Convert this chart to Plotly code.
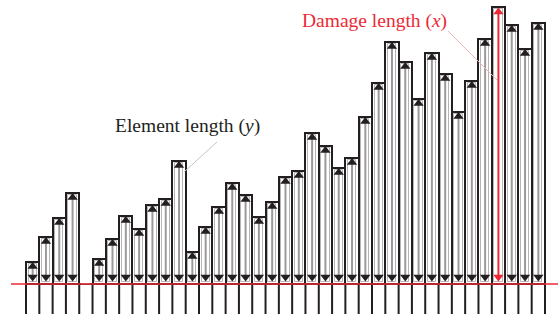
import plotly.graph_objects as go

# ---- data (element index -> element length), slot 4 is empty
slots = list(range(39))
heights = [22, 47, 66, 91, 0, 25, 45, 68, 55, 79, 85, 123, 32, 57, 77, 101, 89, 67, 82,
           107, 113, 151, 138, 116, 126, 167, 201, 242, 222, 185, 231, 210, 172, 203,
           245, 277, 259, 235, 261]
damage_slot = 35
label_element = "Element length (<i>y</i>)"
label_damage = "Damage length (<i>x</i>)"

W, H = 558, 314
INK = "#231f20"
RED = "#ec2a36"
GRAY = "#9a9a9a"

fig = go.Figure()

# outer bars
fig.add_trace(go.Bar(x=slots, y=heights, width=1.0,
                     marker=dict(color="white", line=dict(color=INK, width=2)),
                     hoverinfo="skip"))
# inner gray outline
inner = [max(h - 4, 0) if h > 0 else 0 for h in heights]
fig.add_trace(go.Bar(x=slots, y=inner, base=[2 if h > 0 else 0 for h in heights], width=0.62,
                     marker=dict(color="rgba(0,0,0,0)", line=dict(color="#b5b5b5", width=1)),
                     hoverinfo="skip"))

# shafts
sx, sy = [], []
rx, ry = [], []
for s, h in zip(slots, heights):
    if h <= 0:
        continue
    if s == damage_slot:
        rx += [s, s, None]
        ry += [6, h - 3, None]
    else:
        sx += [s, s, None]
        sy += [6, h - 5, None]
fig.add_trace(go.Scatter(x=sx, y=sy, mode="lines", line=dict(color=GRAY, width=2),
                         hoverinfo="skip"))
fig.add_trace(go.Scatter(x=rx, y=ry, mode="lines", line=dict(color=RED, width=2),
                         hoverinfo="skip"))

# arrowheads
ux = [s for s, h in zip(slots, heights) if h > 0 and s != damage_slot]
uy = [h - 4.5 for s, h in zip(slots, heights) if h > 0 and s != damage_slot]
fig.add_trace(go.Scatter(x=ux, y=uy, mode="markers",
                         marker=dict(symbol="triangle-up", size=9, color=INK), hoverinfo="skip"))
fig.add_trace(go.Scatter(x=ux, y=[7] * len(ux), mode="markers",
                         marker=dict(symbol="triangle-down", size=9, color=INK), hoverinfo="skip"))
dh = heights[damage_slot]
fig.add_trace(go.Scatter(x=[damage_slot, damage_slot], y=[dh - 5, 7], mode="markers",
                         marker=dict(symbol=["triangle-up", "triangle-down"], size=9, color=RED),
                         hoverinfo="skip"))

# element edges continuing below the baseline
ex, ey = [], []
for b in range(len(slots) + 1):
    ex += [b - 0.5, b - 0.5, None]
    ey += [-40, 0, None]
fig.add_trace(go.Scatter(x=ex, y=ey, mode="lines", line=dict(color=INK, width=2),
                         hoverinfo="skip"))

px_per = 519 / 39
x0 = -0.5 - 26 / px_per
x1 = x0 + W / px_per

shapes = [
    dict(type="line", xref="paper", yref="y", x0=11 / W, x1=1, y0=0, y1=0,
         line=dict(color=RED, width=1.5), layer="above"),
    dict(type="line", xref="paper", yref="paper", x0=217 / W, y0=1 - 142 / H,
         x1=184 / W, y1=1 - 172 / H, line=dict(color="#c4c4c4", width=1)),
    dict(type="line", xref="paper", yref="paper", x0=448 / W, y0=1 - 31 / H,
         x1=497 / W, y1=1 - 80 / H, line=dict(color="#f6b3b8", width=1)),
]

annotations = [
    dict(text=label_element, xref="paper", yref="paper", x=187 / W, y=1 - 126 / H,
         xanchor="center", yanchor="middle", showarrow=False,
         font=dict(family="Liberation Serif", size=19.5, color=INK)),
    dict(text=label_damage, xref="paper", yref="paper", x=374 / W, y=1 - 21 / H,
         xanchor="center", yanchor="middle", showarrow=False,
         font=dict(family="Liberation Serif", size=19.5, color=RED)),
]

fig.update_layout(
    width=W, height=H, margin=dict(l=0, r=0, t=0, b=0),
    paper_bgcolor="white", plot_bgcolor="white", showlegend=False,
    barmode="overlay", bargap=0,
    xaxis=dict(range=[x0, x1], visible=False, fixedrange=True),
    yaxis=dict(range=[-30, 284], visible=False, fixedrange=True),
    shapes=shapes, annotations=annotations,
)

fig.write_html("out.html", config={"displayModeBar": False},
               post_script="document.body.style.margin='0';document.body.style.overflow='hidden';")
